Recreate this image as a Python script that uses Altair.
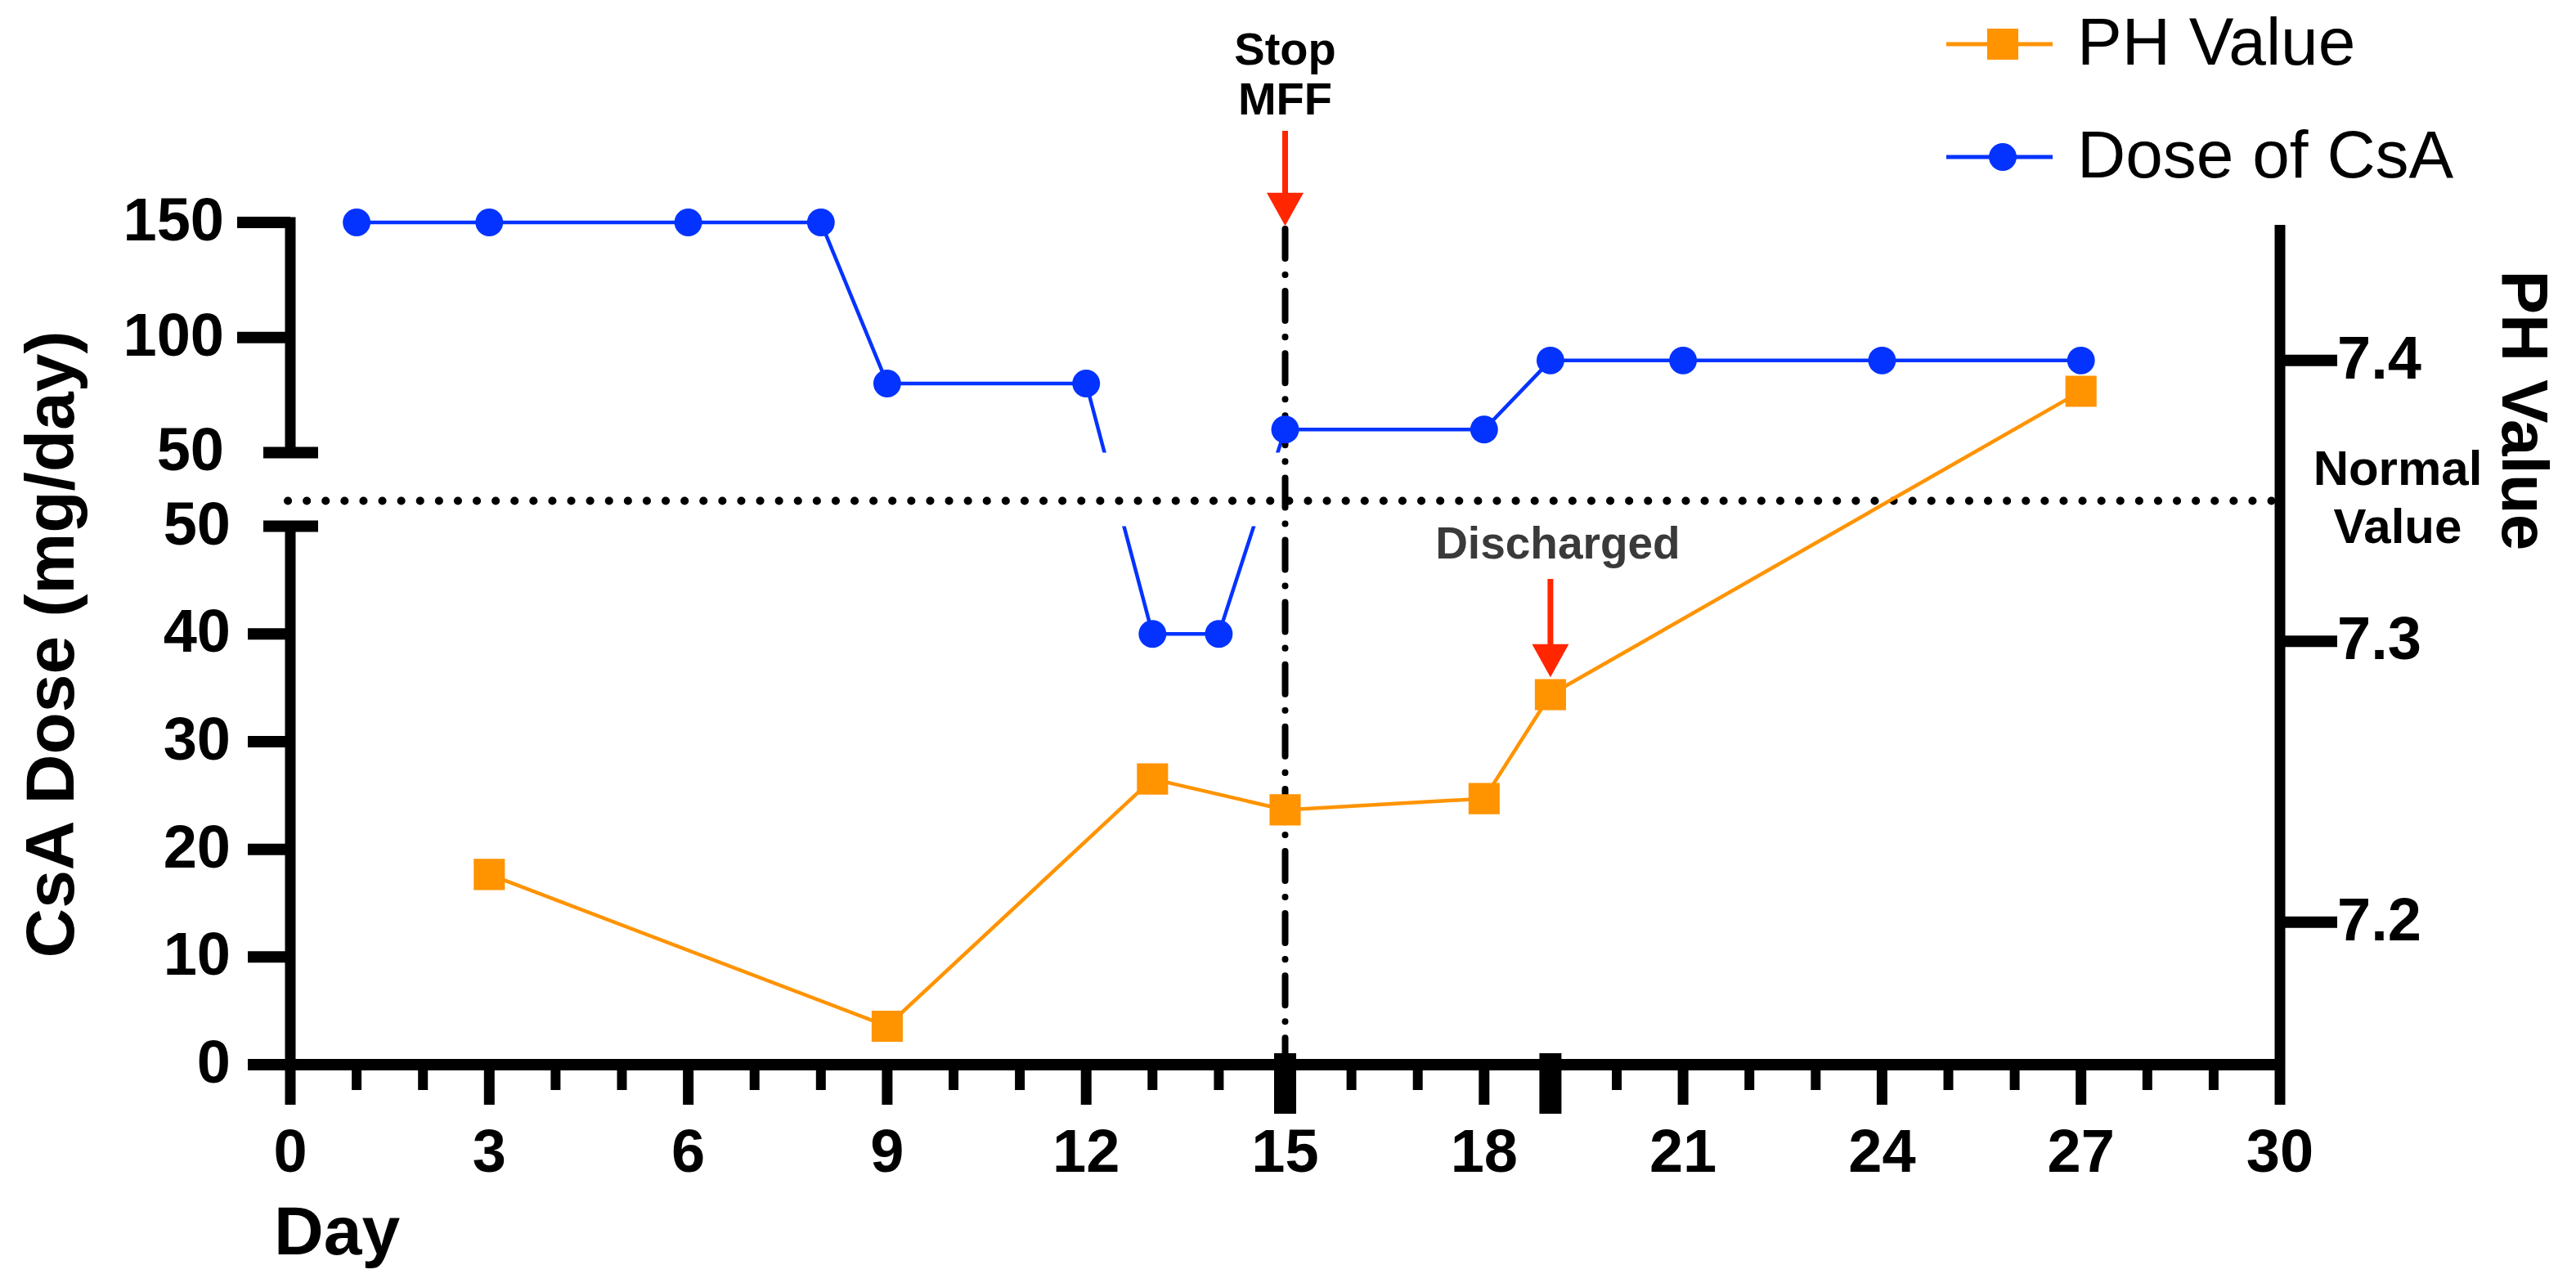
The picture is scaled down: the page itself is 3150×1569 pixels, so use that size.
import altair as alt
import pandas as pd

# ---------------- data ----------------
dose_days = [1, 3, 6, 8, 9, 12, 13, 14, 15, 18, 19, 21, 24, 27]
dose_mg = [150, 150, 150, 150, 80, 80, 40, 40, 60, 60, 90, 90, 90, 90]
ph_days = [3, 9, 13, 15, 18, 19, 27]
ph_vals = [7.217, 7.163, 7.251, 7.240, 7.244, 7.281, 7.389]
normal_ph = [7.35]
stop_day = [15]
discharge_day = [19]
x_label_days = [0, 3, 6, 9, 12, 15, 18, 21, 24, 27, 30]
x_minor_days = [d for d in range(0, 31) if d % 3 != 0]
left_lower_ticks = [0, 10, 20, 30, 40]
left_lower_labels = [0, 10, 20, 30, 40, 50]
left_upper_ticks = [100, 150]
left_upper_labels = [50, 100, 150]
break_value = [50]
right_ticks = [7.2, 7.3, 7.4]
legend_names = ["PH Value", "Dose of CsA"]

# ---------------- styling / layout ----------------
BLUE = "#0433FF"
ORANGE = "#FF9300"
RED = "#FF2600"
FONT = "Liberation Sans, Arial, Helvetica, sans-serif"
W, H = 2433, 1030

# broken left axis: lower part 0-50 drawn 1:1 in "u" units,
# upper part 50-150 compressed and shifted above a gap
HIGH_BOTTOM = 56.85
UPPER_SLOPE = 0.2137
U_MAX = 78.22
PH_DOMAIN = [7.1493, 7.4491]


def upper_u(f):
    return f"{HIGH_BOTTOM} + (datum.{f} - 50) * {UPPER_SLOPE}"


dose_u = f"datum.dose < 50 ? datum.dose : {upper_u('dose')}"

x_scale = alt.Scale(domain=[0, 30], nice=False, zero=False)
u_scale = alt.Scale(domain=[0, U_MAX], nice=False, zero=False)
ph_scale = alt.Scale(domain=PH_DOMAIN, nice=False, zero=False)


def X(f):
    return alt.X(f, type="quantitative", scale=x_scale, axis=None)


def YU(f):
    return alt.Y(f, type="quantitative", scale=u_scale, axis=None)


def YP(f):
    return alt.Y(f, type="quantitative", scale=ph_scale, axis=None)


dose_df = pd.DataFrame({"day": dose_days, "dose": dose_mg})
ph_df = pd.DataFrame({"day": ph_days, "ph": ph_vals})
one = pd.DataFrame({"k": [0]})

layers = []

# blue line (dose)
layers.append(
    alt.Chart(dose_df).transform_calculate(u=dose_u)
    .mark_line(color=BLUE, strokeWidth=4.5)
    .encode(x=X("day"), y=YU("u"))
)
# axis-break gap (white band hides the line between the two axis parts)
layers.append(
    alt.Chart(pd.DataFrame({"v": break_value}))
    .transform_calculate(lo="datum.v", hi=upper_u("v"))
    .mark_rect(color="white")
    .encode(x=alt.value(8), x2=alt.value(W - 8), y=YU("lo"), y2=alt.Y2("hi"))
)
# normal value dotted line
layers.append(
    alt.Chart(pd.DataFrame({"ph": normal_ph}))
    .mark_rule(color="black", strokeWidth=10, strokeDash=[0.1, 23], strokeCap="round")
    .encode(x=alt.value(-3), x2=alt.value(W - 6), y=YP("ph"))
)
# stop MFF dash-dot line
layers.append(
    alt.Chart(pd.DataFrame({"day": stop_day}))
    .mark_rule(color="black", strokeWidth=8, strokeDash=[36, 20, 0.1, 20], strokeCap="round")
    .encode(x=X("day"), y=alt.value(8), y2=alt.value(H))
)
# orange line (pH)
layers.append(
    alt.Chart(ph_df).mark_line(color=ORANGE, strokeWidth=4.5)
    .encode(x=X("day"), y=YP("ph"))
)
# blue markers
layers.append(
    alt.Chart(dose_df).transform_calculate(u=dose_u)
    .mark_point(shape="circle", filled=True, color=BLUE, size=1150, opacity=1)
    .encode(x=X("day"), y=YU("u"))
)
# orange markers
layers.append(
    alt.Chart(ph_df)
    .mark_point(shape="square", filled=True, color=ORANGE, size=1450, opacity=1)
    .encode(x=X("day"), y=YP("ph"))
)

# ---------------- x axis ----------------
layers.append(
    alt.Chart(one).mark_rule(color="black", strokeWidth=14)
    .encode(x=alt.value(-6), x2=alt.value(W + 6), y=alt.value(H))
)
layers.append(
    alt.Chart(pd.DataFrame({"day": x_label_days})).mark_rule(color="black", strokeWidth=13)
    .encode(x=X("day"), y=alt.value(H), y2=alt.value(H + 49))
)
layers.append(
    alt.Chart(pd.DataFrame({"day": x_minor_days})).mark_rule(color="black", strokeWidth=12)
    .encode(x=X("day"), y=alt.value(H), y2=alt.value(H + 31))
)
layers.append(
    alt.Chart(pd.DataFrame({"day": stop_day + discharge_day})).mark_rule(color="black", strokeWidth=27)
    .encode(x=X("day"), y=alt.value(H - 14), y2=alt.value(H + 60))
)
layers.append(
    alt.Chart(pd.DataFrame({"day": x_label_days}))
    .mark_text(font=FONT, fontSize=74, fontWeight="bold", color="black", baseline="middle", align="center")
    .encode(x=X("day"), y=alt.value(H + 109), text="day:Q")
)
layers.append(
    alt.Chart(one)
    .mark_text(font=FONT, fontSize=84, fontWeight="bold", color="black", baseline="alphabetic", align="left")
    .encode(x=alt.value(-20), y=alt.value(H + 232), text=alt.value("Day"))
)

# ---------------- left broken axis ----------------
seg = pd.DataFrame({"lo": [0], "hi": [50]})
layers.append(
    alt.Chart(seg).mark_rule(color="black", strokeWidth=13, strokeCap="square")
    .encode(x=alt.value(0), y=YU("lo"), y2=alt.Y2("hi"))
)
seg2 = pd.DataFrame({"lo": [50], "hi": [150]})
layers.append(
    alt.Chart(seg2).transform_calculate(ulo=upper_u("lo"), uhi=upper_u("hi"))
    .mark_rule(color="black", strokeWidth=13, strokeCap="square")
    .encode(x=alt.value(0), y=YU("ulo"), y2=alt.Y2("uhi"))
)
layers.append(
    alt.Chart(pd.DataFrame({"v": left_lower_ticks})).mark_rule(color="black", strokeWidth=14)
    .encode(x=alt.value(-52), x2=alt.value(0), y=YU("v"))
)
layers.append(
    alt.Chart(pd.DataFrame({"v": left_upper_ticks})).transform_calculate(u=upper_u("v"))
    .mark_rule(color="black", strokeWidth=14)
    .encode(x=alt.value(-65), x2=alt.value(0), y=YU("u"))
)
# T-caps at the break (lower 50 and upper 50)
layers.append(
    alt.Chart(pd.DataFrame({"v": break_value})).transform_calculate(a="datum.v", b=upper_u("v"))
    .transform_fold(["a", "b"], as_=["which", "u"])
    .mark_rule(color="black", strokeWidth=14)
    .encode(x=alt.value(-33), x2=alt.value(34), y=YU("u"))
)
layers.append(
    alt.Chart(pd.DataFrame({"v": left_lower_labels}))
    .mark_text(font=FONT, fontSize=74, fontWeight="bold", color="black", baseline="middle", align="right")
    .encode(x=alt.value(-73), y=YU("v"), text="v:Q")
)
layers.append(
    alt.Chart(pd.DataFrame({"v": left_upper_labels})).transform_calculate(u=upper_u("v"))
    .mark_text(font=FONT, fontSize=74, fontWeight="bold", color="black", baseline="middle", align="right")
    .encode(x=alt.value(-81), y=YU("u"), text="v:Q")
)
layers.append(
    alt.Chart(one)
    .mark_text(font=FONT, fontSize=84, fontWeight="bold", color="black", baseline="alphabetic",
               align="center", angle=270)
    .encode(x=alt.value(-265), y=alt.value(516), text=alt.value("CsA Dose (mg/day)"))
)

# ---------------- right axis (pH) ----------------
layers.append(
    alt.Chart(one).mark_rule(color="black", strokeWidth=13)
    .encode(x=alt.value(W), y=alt.value(3), y2=alt.value(H))
)
layers.append(
    alt.Chart(pd.DataFrame({"ph": right_ticks})).mark_rule(color="black", strokeWidth=14)
    .encode(x=alt.value(W), x2=alt.value(W + 70), y=YP("ph"))
)
layers.append(
    alt.Chart(pd.DataFrame({"ph": right_ticks}))
    .mark_text(font=FONT, fontSize=74, fontWeight="bold", color="black", baseline="middle", align="left")
    .encode(x=alt.value(W + 70), y=YP("ph"), text=alt.Text("ph:Q", format=".1f"))
)
layers.append(
    alt.Chart(one)
    .mark_text(font=FONT, fontSize=80, fontWeight="bold", color="black", baseline="alphabetic",
               align="center", angle=90)
    .encode(x=alt.value(W + 272), y=alt.value(230), text=alt.value("PH Value"))
)
for txt, yy in [("Normal", 303), ("Value", 374)]:
    layers.append(
        alt.Chart(one)
        .mark_text(font=FONT, fontSize=60, fontWeight="bold", color="black", baseline="middle", align="center")
        .encode(x=alt.value(W + 144), y=alt.value(yy), text=alt.value(txt))
    )

# ---------------- annotations ----------------
ARROW = "M-1,-0.9L1,-0.9L0,0.9Z"
for day_list, shaft_top, shaft_bot, head_y in [(stop_day, -112, -30, -16), (discharge_day, 436, 524, 536)]:
    d = pd.DataFrame({"day": day_list})
    layers.append(
        alt.Chart(d).mark_rule(color=RED, strokeWidth=7)
        .encode(x=X("day"), y=alt.value(shaft_top), y2=alt.value(shaft_bot))
    )
    layers.append(
        alt.Chart(d).mark_point(shape=ARROW, filled=True, color=RED, size=2025, opacity=1, strokeWidth=0)
        .encode(x=X("day"), y=alt.value(head_y))
    )
for txt, yy in [("Stop", -210), ("MFF", -149)]:
    layers.append(
        alt.Chart(pd.DataFrame({"day": stop_day}))
        .mark_text(font=FONT, fontSize=56, fontWeight="bold", color="black", baseline="middle", align="center")
        .encode(x=X("day"), y=alt.value(yy), text=alt.value(txt))
    )
layers.append(
    alt.Chart(pd.DataFrame({"day": discharge_day}))
    .mark_text(font=FONT, fontSize=55, fontWeight="bold", color="#3a3a3a", baseline="middle",
               align="center", dx=9)
    .encode(x=X("day"), y=alt.value(394), text=alt.value("Discharged"))
)

# ---------------- legend ----------------
LEG_X0, LEG_X1, LEG_MX, LEG_TX = 2025, 2155, 2094, 2185
for name, yy, col, shp, sz in [(legend_names[0], -218, ORANGE, "square", 1450),
                               (legend_names[1], -80, BLUE, "circle", 1150)]:
    ld = pd.DataFrame({"name": [name]})
    layers.append(
        alt.Chart(ld).mark_rule(color=col, strokeWidth=5)
        .encode(x=alt.value(LEG_X0), x2=alt.value(LEG_X1), y=alt.value(yy))
    )
    layers.append(
        alt.Chart(ld).mark_point(shape=shp, filled=True, color=col, size=sz, opacity=1)
        .encode(x=alt.value(LEG_MX), y=alt.value(yy))
    )
    layers.append(
        alt.Chart(ld).mark_text(font=FONT, fontSize=82, color="black", baseline="middle", align="left")
        .encode(x=alt.value(LEG_TX), y=alt.value(yy), text="name:N")
    )

chart = (
    alt.layer(*layers)
    .resolve_scale(y="independent")
    .properties(
        width=W,
        height=H,
        padding={"left": 347, "top": 264, "right": 350, "bottom": 257},
        autosize=alt.AutoSizeParams(type="none"),
        background="white",
    )
    .configure_view(strokeWidth=0)
)

chart.save("out.html", embed_options={"renderer": "svg", "actions": False})
